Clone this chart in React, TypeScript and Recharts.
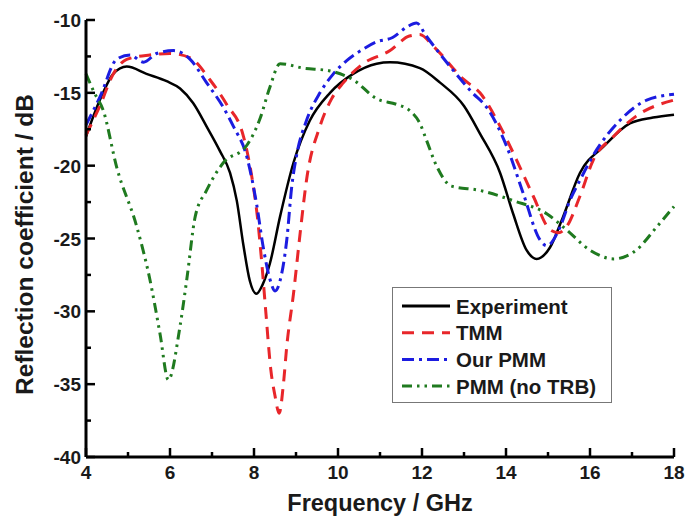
import React from 'react';
import { LineChart, Line, XAxis, YAxis } from 'recharts';

// Experiment (black solid)
const expFreq = [4, 4.33, 4.65, 4.97, 5.44, 5.92, 6.24, 6.55, 6.87, 7.19, 7.43, 7.59, 7.75, 7.9, 8.06, 8.2, 8.38, 8.62, 8.94, 9.33, 9.81, 10.36, 10.92, 11.24, 11.95, 12.43, 13, 13.38, 13.86, 14.17, 14.49, 14.73, 15.05, 15.36, 15.76, 16.32, 16.95, 17.5, 18];
const expVal = [-18.0, -15.5, -13.7, -13.2, -13.7, -14.2, -14.7, -15.7, -17.3, -19.0, -20.5, -22.4, -25.5, -27.9, -28.8, -28.2, -26.7, -23.5, -19.8, -16.9, -15.0, -13.7, -13.0, -12.9, -13.3, -14.3, -15.9, -17.8, -20.5, -23.3, -25.8, -26.4, -25.6, -23.5, -20.5, -18.7, -17.1, -16.7, -16.5];

// TMM (red dashed)
const tmmFreq = [4, 4.33, 4.65, 4.97, 5.52, 6, 6.48, 6.95, 7.35, 7.75, 7.95, 8.08, 8.18, 8.28, 8.4, 8.5, 8.6, 8.7, 8.78, 8.94, 9.1, 9.25, 9.57, 9.85, 10.13, 10.6, 11.24, 11.7, 11.95, 12.27, 13, 13.38, 13.86, 14.25, 14.65, 15.05, 15.25, 15.44, 15.76, 16.08, 16.56, 17.1, 18];
const tmmVal = [-17.9, -15.9, -13.7, -12.7, -12.4, -12.3, -12.6, -14.1, -15.8, -18.0, -20.8, -23.5, -26.5, -30.0, -34.0, -35.8, -37.0, -35.0, -32.4, -28.8, -24.6, -21.0, -17.3, -15.4, -14.3, -13.0, -12.1, -11.1, -11.0, -11.8, -14.1, -15.0, -17.3, -19.6, -22.1, -24.4, -24.6, -24.2, -22.1, -19.6, -18.0, -16.6, -15.5];

// Our PMM (blue dash-dot)
const ourFreq = [4, 4.33, 4.73, 5.05, 5.37, 5.68, 6.08, 6.48, 6.87, 7.27, 7.51, 7.83, 8.06, 8.22, 8.38, 8.5, 8.66, 8.78, 8.9, 9.02, 9.25, 9.57, 9.89, 10.2, 10.6, 10.92, 11.3, 11.63, 11.87, 12.1, 12.67, 13.2, 13.54, 14.02, 14.41, 14.81, 14.97, 15.29, 15.52, 15.76, 16.16, 16.71, 17.35, 18];
const ourVal = [-17.2, -15.3, -12.7, -12.4, -12.9, -12.3, -12.1, -12.7, -14.3, -16.0, -17.3, -19.4, -22.6, -25.6, -27.8, -28.6, -27.4, -25.1, -21.4, -19.2, -16.9, -15.0, -13.7, -12.8, -12.0, -11.5, -11.2, -10.5, -10.2, -11.1, -13.2, -15.0, -16.0, -18.7, -21.9, -25.1, -25.5, -24.2, -22.4, -21.0, -18.9, -16.9, -15.5, -15.1];

// PMM (no TRB) (green dash-dot-dot)
const noTrbFreq = [4, 4.2, 4.41, 4.73, 5.21, 5.52, 5.76, 5.96, 6.24, 6.4, 6.6, 6.87, 7.27, 7.83, 8.14, 8.38, 8.62, 9.17, 9.81, 10.36, 10.92, 11.4, 11.7, 11.95, 12.1, 12.36, 12.7, 13.38, 14.17, 14.97, 15.44, 16.0, 16.56, 17.1, 17.59, 18];
const noTrbVal = [-13.7, -15.0, -16.2, -20.1, -24.2, -27.8, -31.5, -34.7, -31.0, -27.8, -23.5, -21.7, -19.8, -18.6, -16.8, -14.6, -13.0, -13.3, -13.5, -14.1, -15.4, -15.8, -16.2, -17.1, -18.2, -20.1, -21.4, -21.7, -22.4, -23.3, -24.4, -25.8, -26.4, -25.8, -24.2, -22.8];

const xTicks = [4, 5, 6, 7, 8, 9, 10, 11, 12, 13, 14, 15, 16, 17, 18];
const yTicks = [-40, -37.5, -35, -32.5, -30, -27.5, -25, -22.5, -20, -17.5, -15, -12.5, -10];

const toPoints = (f: number[], v: number[]) => f.map((x, i) => ({ f: x, v: v[i] }));

const series = [
  { name: 'Experiment', data: toPoints(expFreq, expVal), color: '#000000', dash: undefined, width: 2.5 },
  { name: 'TMM', data: toPoints(tmmFreq, tmmVal), color: '#e8262a', dash: '12 8', width: 3 },
  { name: 'Our PMM', data: toPoints(ourFreq, ourVal), color: '#1c1ce0', dash: '12 5 3 5', width: 3 },
  { name: 'PMM (no TRB)', data: toPoints(noTrbFreq, noTrbVal), color: '#1f7a1f', dash: '10 5 2.5 5 2.5 5', width: 3 },
];

const font = '"Liberation Sans", Arial, sans-serif';
const textColor = '#1a1a1a';

const BottomTick = (props: any) => {
  const { x, y, payload } = props;
  const major = payload.value % 2 === 0;
  return (
    <g>
      <line x1={x} x2={x} y1={y} y2={y - (major ? 9 : 5)} stroke="#000" strokeWidth={2.5} />
      {major && (
        <text x={x} y={y + 22} textAnchor="middle" fontFamily={font} fontWeight="bold" fontSize={19} fill={textColor}>
          {payload.value}
        </text>
      )}
    </g>
  );
};

const TopTick = (props: any) => {
  const { x, y, payload } = props;
  const major = payload.value % 2 === 0;
  return <line x1={x} x2={x} y1={y} y2={y + (major ? 9 : 5)} stroke="#000" strokeWidth={2.5} />;
};

const LeftTick = (props: any) => {
  const { x, y, payload } = props;
  const major = payload.value % 5 === 0;
  return (
    <g>
      <line x1={x} x2={x + (major ? 9 : 5)} y1={y} y2={y} stroke="#000" strokeWidth={2.5} />
      {major && (
        <text x={x - 5} y={y + 7} textAnchor="end" fontFamily={font} fontWeight="bold" fontSize={19} fill={textColor}>
          {payload.value}
        </text>
      )}
    </g>
  );
};

const RightTick = (props: any) => {
  const { x, y, payload } = props;
  const major = payload.value % 5 === 0;
  return <line x1={x} x2={x - (major ? 9 : 5)} y1={y} y2={y} stroke="#000" strokeWidth={2.5} />;
};

const XTitle = (props: any) => {
  const { viewBox } = props;
  return (
    <text x={viewBox.x + viewBox.width / 2} y={viewBox.y + 54} textAnchor="middle" fontFamily={font} fontWeight="bold" fontSize={23.5} fill={textColor}>
      Frequency / GHz
    </text>
  );
};

const YTitle = (props: any) => {
  const { viewBox } = props;
  const cx = 33;
  const cy = viewBox.y + viewBox.height / 2 + 6;
  return (
    <text x={cx} y={cy} transform={`rotate(-90 ${cx} ${cy})`} textAnchor="middle" fontFamily={font} fontWeight="bold" fontSize={24.5} fill={textColor}>
      Reflection coefficient / dB
    </text>
  );
};

const LegendBox = () => (
  <div style={{ position: 'absolute', left: 392, top: 287, width: 220, height: 116, border: '1.5px solid #777', background: '#fff', boxSizing: 'border-box' }}>
    <svg width={217} height={113} style={{ display: 'block' }}>
      {series.map((s, i) => {
        const y = 18 + i * 26.7;
        return (
          <g key={s.name}>
            <line x1={9} x2={57} y1={y} y2={y} stroke={s.color} strokeWidth={3} strokeDasharray={s.dash} />
            <text x={63} y={y + 7.5} fontFamily={font} fontWeight="bold" fontSize={20.5} fill={textColor}>
              {s.name}
            </text>
          </g>
        );
      })}
    </svg>
  </div>
);

export default function App() {
  return (
    <div style={{ position: 'absolute', left: 0, top: 0, width: 686, height: 518, background: '#fff' }}>
      <LineChart width={686} height={518} margin={{ top: 20, right: 12, bottom: 0, left: 0 }}>
        <XAxis
          xAxisId="bottom"
          dataKey="f"
          type="number"
          domain={[4, 18]}
          ticks={xTicks}
          interval={0}
          height={61}
          tickSize={0}
          tickMargin={0}
          tickLine={false}
          tick={<BottomTick />}
          axisLine={{ stroke: '#000', strokeWidth: 3 }}
          allowDuplicatedCategory={false}
          label={<XTitle />}
        />
        <XAxis
          xAxisId="top"
          orientation="top"
          dataKey="f"
          type="number"
          domain={[4, 18]}
          ticks={xTicks}
          interval={0}
          height={0}
          tickSize={0}
          tickMargin={0}
          tickLine={false}
          tick={<TopTick />}
          axisLine={{ stroke: '#000', strokeWidth: 3 }}
          allowDuplicatedCategory={false}
        />
        <YAxis
          yAxisId="left"
          type="number"
          domain={[-40, -10]}
          ticks={yTicks}
          interval={0}
          width={86}
          tickSize={0}
          tickMargin={0}
          tickLine={false}
          tick={<LeftTick />}
          axisLine={{ stroke: '#000', strokeWidth: 3 }}
          label={<YTitle />}
        />
        <YAxis
          yAxisId="right"
          orientation="right"
          type="number"
          domain={[-40, -10]}
          ticks={yTicks}
          interval={0}
          width={0}
          tickSize={0}
          tickMargin={0}
          tickLine={false}
          tick={<RightTick />}
          axisLine={{ stroke: '#000', strokeWidth: 3 }}
        />
        {series.map((s) => (
          <Line
            key={s.name}
            xAxisId="bottom"
            yAxisId="left"
            data={s.data}
            dataKey="v"
            name={s.name}
            type="monotone"
            stroke={s.color}
            strokeWidth={s.width}
            strokeDasharray={s.dash}
            dot={false}
            activeDot={false}
            isAnimationActive={false}
          />
        ))}
      </LineChart>
      <LegendBox />
    </div>
  );
}
